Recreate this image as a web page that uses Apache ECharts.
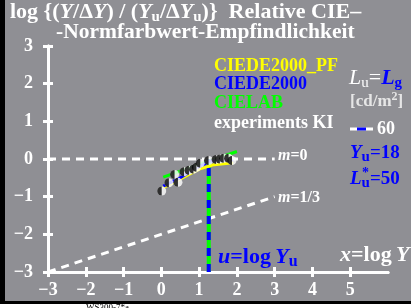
<!DOCTYPE html>
<html>
<head>
<meta charset="utf-8">
<script src="https://cdn.jsdelivr.net/npm/echarts@6/dist/echarts.min.js"></script>
<style>
html, body { margin: 0; padding: 0; background: #fff; }
#chart { width: 411px; height: 308px; }
</style>
</head>
<body>
<div id="chart"></div>
<script>
// tick labels
var xTicks = [-3, -2, -1, 0, 1, 2, 3, 4, 5];
var yTicks = [-3, -2, -1, 0, 1, 2, 3];

// experiments KI (log x, log ratio)
var expX = [0.01, 0.2, 0.44, 0.35, 0.6, 0.73, 0.85, 0.93, 1.03, 1.25, 1.45, 1.55, 1.65, 1.78, 1.87];
var expY = [-0.85, -0.63, -0.62, -0.41, -0.34, -0.3, -0.27, -0.22, -0.11, -0.04, -0.01, 0.0, 0.02, 0.02, -0.04];

// model curves
var pfX = [0.05, 0.5, 1.0, 1.4, 1.9];
var pfY = [-0.76, -0.53, -0.27, -0.15, -0.1];
var deX = [0.05, 0.5, 1.0, 1.3, 1.9];
var deY = [-0.72, -0.5, -0.2, -0.05, -0.02];
var labX = [0.05, 2.0];
var labY = [-0.48, 0.2];

// reference lines m=0 and m=1/3
var m0X = [-3, 3];
var m0Y = [0, 0];
var m13X = [-3, 3];
var m13Y = [-3, -1];

// u = log Yu, Yu = 18
var uX = [1.255, 1.255];
var uY = [-3, 0];

function pairs(xs, ys) {
  var out = [];
  for (var i = 0; i < xs.length; i++) out.push([xs[i], ys[i]]);
  return out;
}
function minus(v) { return String(v).replace('-', '\u2212'); }

var serif = '"Liberation Serif", "DejaVu Serif", serif';
var chart = echarts.init(document.getElementById('chart'));

var axisCommon = {
  type: 'value',
  axisLine: { show: true, onZero: false, lineStyle: { color: '#fff', width: 3 } },
  splitLine: { show: false }
};

var option = {
  backgroundColor: '#fff',
  animation: false,
  grid: [
    { left: 48, top: 46, width: 340, height: 226 }
  ],
  xAxis: [
    Object.assign({}, axisCommon, {
      min: -3, max: 6, interval: 1,
      axisTick: { show: true, length: 5, customValues: xTicks, lineStyle: { color: '#fff', width: 3 } },
      axisLabel: { customValues: xTicks, formatter: minus, color: '#fff', fontSize: 18, fontWeight: 'bold', fontFamily: serif, margin: 9 }
    }),
    Object.assign({}, axisCommon, {
      min: -3, max: 6, interval: 1, position: 'bottom',
      axisTick: { show: true, inside: true, length: 5, customValues: xTicks, lineStyle: { color: '#fff', width: 3 } },
      axisLabel: { show: false }
    })
  ],
  yAxis: [
    Object.assign({}, axisCommon, {
      min: -3, max: 3, interval: 1,
      axisTick: { show: true, length: 5, lineStyle: { color: '#fff', width: 3 } },
      axisLabel: { formatter: minus, color: '#fff', fontSize: 18, fontWeight: 'bold', fontFamily: serif, margin: 15 }
    }),
    Object.assign({}, axisCommon, {
      min: -3, max: 3, interval: 1, position: 'left',
      axisTick: { show: true, inside: true, length: 5, lineStyle: { color: '#fff', width: 3 } },
      axisLabel: { show: false }
    })
  ],
  graphic: [
    { type: 'rect', z: -100, shape: { x: 5, y: 0, width: 406, height: 301 }, style: { fill: '#8f8f94' } },
    { type: 'rect', z: -100, shape: { x: 0, y: 0, width: 5, height: 304 }, style: { fill: '#000' } },
    { type: 'rect', z: -100, shape: { x: 0, y: 301, width: 411, height: 3 }, style: { fill: '#000' } },
    { type: 'text', x: 86, y: 303, style: { text: 'WS300-7*a', font: '9px ' + serif, fill: '#000' } },
    {
      type: 'text', x: 10, y: 0,
      style: {
        text: 'log {({i|Y}{n|/\u0394}{i|Y}{n|) / (}{i|Y}{s|u}{n|/\u0394}{i|Y}{s|u}{n|)}}  Relative CIE\u2013',
        font: 'bold 22px ' + serif, fill: '#fff',
        rich: {
          n: { font: 'bold 22px ' + serif, fill: '#fff' },
          i: { font: 'italic bold 22px ' + serif, fill: '#fff' },
          s: { font: 'bold 15px ' + serif, fill: '#fff', padding: [10, 0, 0, 0] }
        }
      }
    },
    { type: 'text', x: 56, y: 21, style: { text: '-Normfarbwert-Empfindlichkeit', font: 'bold 21.5px ' + serif, fill: '#fff' } },
    { type: 'text', x: 214, y: 57, style: { text: 'CIEDE2000_PF', font: 'bold 18px ' + serif, fill: '#ffff00' } },
    { type: 'text', x: 214, y: 75, style: { text: 'CIEDE2000', font: 'bold 18px ' + serif, fill: '#0000ff' } },
    { type: 'text', x: 214, y: 94, style: { text: 'CIELAB', font: 'bold 18px ' + serif, fill: '#00ff00' } },
    { type: 'text', x: 214, y: 114, style: { text: 'experiments KI', font: 'bold 18px ' + serif, fill: '#fff' } },
    {
      type: 'text', x: 349, y: 66,
      style: {
        text: '{i|L}{s|u}{n|=}{bi|L}{bs|g}',
        rich: {
          i: { font: 'italic 22px ' + serif, fill: '#fff' },
          s: { font: '15px ' + serif, fill: '#fff', padding: [10, 0, 0, 0] },
          n: { font: '22px ' + serif, fill: '#fff' },
          bi: { font: 'italic bold 22px ' + serif, fill: '#0000ff' },
          bs: { font: 'bold 15px ' + serif, fill: '#0000ff', padding: [10, 0, 0, 0] }
        }
      }
    },
    {
      type: 'text', x: 350, y: 91,
      style: {
        text: '[cd/m{p|2}]', font: 'bold 17px ' + serif, fill: '#e6e6e6',
        rich: { p: { font: 'bold 12px ' + serif, fill: '#e6e6e6', padding: [0, 0, 9, 0] } }
      }
    },
    { type: 'line', shape: { x1: 350, y1: 129, x2: 373, y2: 129 }, style: { stroke: '#fff', lineWidth: 3 } },
    { type: 'line', shape: { x1: 357, y1: 129, x2: 366, y2: 129 }, style: { stroke: '#0000ff', lineWidth: 3 } },
    { type: 'text', x: 377, y: 120, style: { text: '60', font: 'bold 18px ' + serif, fill: '#fff' } },
    {
      type: 'text', x: 350, y: 142,
      style: {
        text: '{i|Y}{s|u}{n|=18}',
        rich: {
          i: { font: 'italic bold 19px ' + serif, fill: '#0000ff' },
          s: { font: 'bold 15px ' + serif, fill: '#0000ff', padding: [8, 0, 0, 0] },
          n: { font: 'bold 19px ' + serif, fill: '#0000ff' }
        }
      }
    },
    {
      type: 'text', x: 350, y: 168,
      style: {
        text: '{i|L}{s|u}{n|=50}',
        rich: {
          i: { font: 'italic bold 19px ' + serif, fill: '#0000ff' },
          s: { font: 'bold 15px ' + serif, fill: '#0000ff', padding: [8, 0, 0, 0] },
          n: { font: 'bold 19px ' + serif, fill: '#0000ff' }
        }
      }
    },
    { type: 'text', x: 362, y: 166, style: { text: '*', font: 'bold 14px ' + serif, fill: '#0000ff' } },
    {
      type: 'text', x: 278, y: 148,
      style: {
        text: '{i|m}{n|=0}',
        rich: { i: { font: 'italic bold 16px ' + serif, fill: '#fff' }, n: { font: 'bold 16px ' + serif, fill: '#fff' } }
      }
    },
    {
      type: 'text', x: 278, y: 190,
      style: {
        text: '{i|m}{n|=1/3}',
        rich: { i: { font: 'italic bold 16px ' + serif, fill: '#fff' }, n: { font: 'bold 16px ' + serif, fill: '#fff' } }
      }
    },
    {
      type: 'text', x: 218, y: 244,
      style: {
        text: '{i|u}{n|=log\u2009}{i|Y}{s|u}',
        rich: {
          i: { font: 'italic bold 22px ' + serif, fill: '#0000ff' },
          n: { font: 'bold 22px ' + serif, fill: '#0000ff' },
          s: { font: 'bold 16px ' + serif, fill: '#0000ff', padding: [10, 0, 0, 0] }
        }
      }
    },
    {
      type: 'text', x: 340, y: 244,
      style: {
        text: '{i|x}{n|=log\u2009}{i|Y}',
        rich: {
          i: { font: 'italic bold 22px ' + serif, fill: '#fff' },
          n: { font: 'bold 22px ' + serif, fill: '#fff' }
        }
      }
    }
  ],
  series: [
    {
      type: 'line', data: pairs(m0X, m0Y), symbol: 'none',
      lineStyle: { color: '#fff', width: 3, type: [8, 6] }
    },
    {
      type: 'line', data: pairs(m13X, m13Y), symbol: 'none',
      lineStyle: { color: '#fff', width: 3, type: [8, 6] }
    },
    {
      type: 'line', data: pairs(uX, uY), symbol: 'none',
      lineStyle: { color: '#00ff00', width: 4 }
    },
    {
      type: 'line', data: pairs(uX, uY), symbol: 'none',
      lineStyle: { color: '#0000ff', width: 4, type: [8, 8] }
    },
    {
      type: 'line', data: pairs(labX, labY), symbol: 'none',
      lineStyle: { color: '#00ff00', width: 3 }
    },
    {
      type: 'line', data: pairs(pfX, pfY), symbol: 'none',
      lineStyle: { color: '#ffff00', width: 3 }
    },
    {
      type: 'line', data: pairs(deX, deY), symbol: 'none',
      lineStyle: { color: '#0000ff', width: 3 }
    },
    {
      type: 'scatter', data: pairs(expX, expY), symbol: 'circle', symbolSize: 9, z: 5,
      itemStyle: { color: '#fff' }
    },
    {
      type: 'scatter', data: pairs(expX, expY), z: 6,
      symbol: 'path://M10,0 A10,10 0 0,0 10,20 Z', symbolSize: [4.5, 9], symbolOffset: [-2.25, 0],
      itemStyle: { color: '#000' }
    }
  ]
};

chart.setOption(option);
</script>
</body>
</html>
